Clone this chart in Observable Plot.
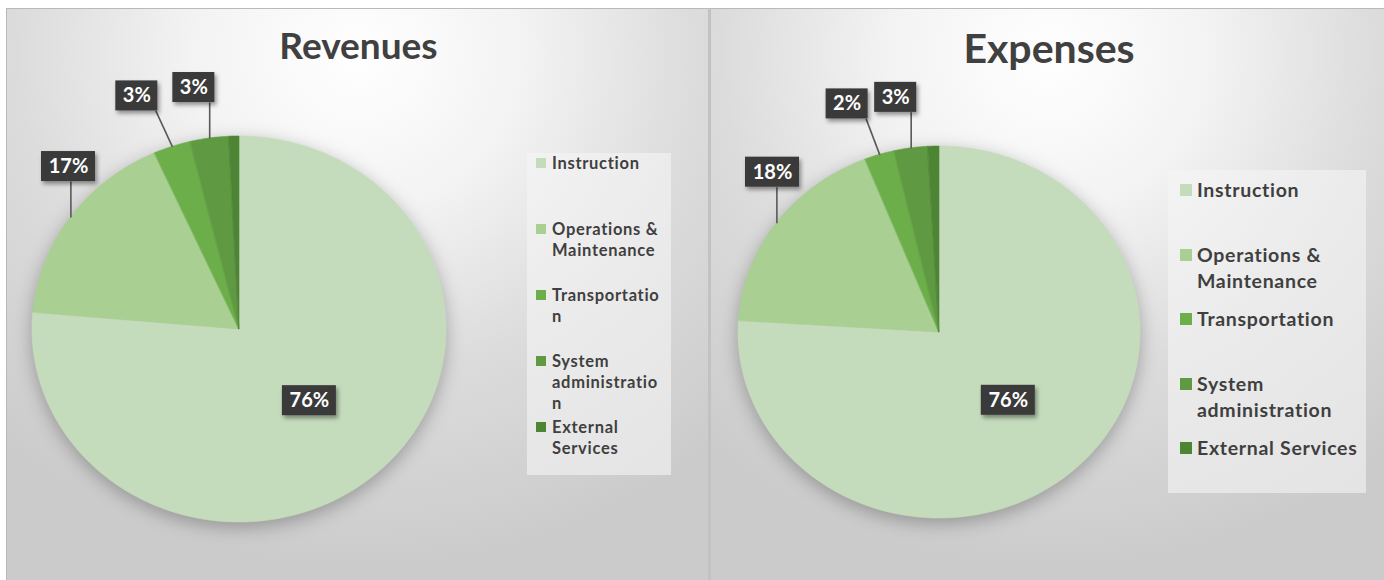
<!DOCTYPE html>
<html>
<head>
<meta charset="utf-8">
<script src="https://cdn.jsdelivr.net/npm/d3@7"></script>
<script src="https://cdn.jsdelivr.net/npm/@observablehq/plot@0.6"></script>
<style>
  html, body { margin: 0; padding: 0; background: #ffffff; }
  body { width: 1384px; height: 580px; position: relative; overflow: hidden; font-family: Lato, "Open Sans", sans-serif; }
  .panel { position: absolute; top: 8px; height: 574px; overflow: hidden;
    background: radial-gradient(ellipse 78% 90% at 50% 8%, #ffffff 0%, #f3f3f3 30%, #dcdcdc 62%, #cbcbcb 100%); }
  #left { left: 6px; width: 701px; border-top: 1px solid #b9b9b9; border-left: 1px solid #b9b9b9; }
  #right { left: 708px; width: 676px; border-top: 1px solid #b9b9b9; border-left: 3px solid #c2c2c2; }
  .title { position: absolute; left: 0; width: 100%; text-align: center; font-weight: 700; color: #404040; line-height: 1; }
  .legend { position: absolute; background: rgba(245,245,245,0.6); }
  .item { position: absolute; color: #3f3f3f; font-weight: 700; overflow-wrap: anywhere; }
  .sw { position: absolute; }
  .panel svg { position: absolute; left: 0; top: 0; }
  .panel svg g[aria-label="area"] { filter: drop-shadow(0px 5px 9px rgba(0,0,0,0.28)); }
  .panel svg g[aria-label="rect"] { filter: drop-shadow(2px 3px 2px rgba(0,0,0,0.40)); }
</style>
</head>
<body>
<div class="panel" id="left"></div>
<div class="panel" id="right"></div>
<script>
// ---- data ----
const categories = ["Instruction", "Operations & Maintenance", "Transportation", "System administration", "External Services"];
const revenues = [76.4, 16.9, 2.9, 3.0, 0.8];
const expenses = [76.0, 18.0, 2.4, 2.7, 0.9];
const titles = ["Revenues", "Expenses"];
const colors = ["#c5dcbc", "#a9cf93", "#6cae4a", "#5f9a43", "#4d8535"];

function piePanel(el, values, cfg) {
  const {title, width, height, cx, cy, rx, ry, titleSize, titleTop, leg} = cfg;
  const total = d3.sum(values);
  let acc = 0;
  const slices = categories.map((cat, i) => {
    const a0 = acc / total * 2 * Math.PI;
    acc += values[i];
    const a1 = acc / total * 2 * Math.PI;
    return {cat, i, value: values[i], a0, a1, mid: (a0 + a1) / 2};
  });
  const arcPts = slices.flatMap(s => {
    const n = Math.max(2, Math.ceil((s.a1 - s.a0) / (Math.PI / 180)));
    return d3.range(n + 1).map(k => {
      const t = s.a0 + (s.a1 - s.a0) * k / n;
      return {cat: s.cat, x: Math.sin(t), y: Math.cos(t)};
    });
  });
  const px = x => cx + x * rx, py = y => cy - y * ry;
  const ix = p => (p - cx) / rx, iy = p => (cy - p) / ry;
  const maxI = d3.maxIndex(values);
  const labels = [];
  for (const s of slices) {
    if (s.value < 1) continue; // tiny slices carry no data label
    const label = Math.round(s.value) + "%";
    const w = 12 * label.length + 18, h = 30;
    let cxp, cyp, link = null;
    if (s.i === maxI) {
      cxp = px(0.5 * Math.sin(s.mid)); cyp = py(0.5 * Math.cos(s.mid));
    } else {
      const ex = px(Math.sin(s.mid)), ey = py(Math.cos(s.mid));
      cxp = Math.max(34 + w / 2, ex + 110 * Math.sin(s.mid));
      cyp = ey - 51;
      const lx = Math.min(Math.max(ex, cxp - w / 2 + 2), cxp + w / 2 - 2);
      link = {x1: ix(ex), y1: iy(ey), x2: ix(lx), y2: iy(cyp + h / 2)};
    }
    labels.push({label, x: ix(cxp), y: iy(cyp), bx1: ix(cxp - w / 2), bx2: ix(cxp + w / 2), by1: iy(cyp - h / 2), by2: iy(cyp + h / 2), link});
  }
  const links = labels.filter(d => d.link).map(d => d.link);

  const svg = Plot.plot({
    width, height, margin: 0,
    style: {background: "transparent", overflow: "visible", fontFamily: "Lato, sans-serif"},
    x: {domain: [-1, 1], range: [cx - rx, cx + rx], axis: null},
    y: {domain: [-1, 1], range: [cy + ry, cy - ry], axis: null},
    color: {domain: categories, range: colors},
    marks: [
      Plot.area(arcPts, {x1: 0, y1: 0, x2: "x", y2: "y", z: "cat", fill: "cat", stroke: "cat", strokeWidth: 0.6, curve: "linear"}),
      Plot.link(links, {x1: "x1", y1: "y1", x2: "x2", y2: "y2", stroke: "#595959", strokeWidth: 1.6}),
      Plot.rect(labels, {x1: "bx1", x2: "bx2", y1: "by1", y2: "by2", fill: "#3a3a3a"}),
      Plot.text(labels, {x: "x", y: "y", text: "label", fill: "#ffffff", fontSize: 20, fontWeight: "bold", fontFamily: "Lato, sans-serif"})
    ]
  });
  el.appendChild(svg);

  const t = document.createElement("div");
  t.className = "title";
  t.textContent = title;
  t.style.fontSize = titleSize + "px";
  t.style.top = titleTop + "px";
  t.style.left = (cfg.titleShift || 0) + "px";
  el.appendChild(t);

  const lg = document.createElement("div");
  lg.className = "legend";
  Object.assign(lg.style, {left: leg.x + "px", top: leg.y + "px", width: leg.w + "px", height: leg.h + "px"});
  el.appendChild(lg);
  categories.forEach((cat, i) => {
    const top = leg.first - leg.lh / 2 + i * leg.slot;
    const sw = document.createElement("div");
    sw.className = "sw";
    Object.assign(sw.style, {left: leg.swx + "px", top: (top + (leg.lh - leg.sws) / 2) + "px", width: leg.sws + "px", height: leg.sws + "px", background: colors[i]});
    el.appendChild(sw);
    const it = document.createElement("div");
    it.className = "item";
    it.textContent = cat;
    Object.assign(it.style, {left: leg.tx + "px", top: top + "px", width: leg.tw + "px", fontSize: leg.fs + "px", lineHeight: leg.lh + "px", letterSpacing: leg.ls + "px"});
    el.appendChild(it);
  });
}

piePanel(document.getElementById("left"), revenues, {
  title: titles[0], width: 701, height: 572, cx: 232, cy: 320, rx: 207, ry: 193,
  titleSize: 37, titleTop: 17, titleShift: 1,
  leg: {x: 520, y: 144, w: 144, h: 322, swx: 529, sws: 10, tx: 545, tw: 111, first: 154, slot: 66, fs: 16.5, lh: 21, ls: 0.7}
});
piePanel(document.getElementById("right"), expenses, {
  title: titles[1], width: 676, height: 572, cx: 228, cy: 323, rx: 201, ry: 186,
  titleSize: 41, titleTop: 18, titleShift: 0,
  leg: {x: 457, y: 161, w: 198, h: 323, swx: 469, sws: 12, tx: 486, tw: 168, first: 181, slot: 64.5, fs: 19.5, lh: 26, ls: 0.7}
});
</script>
</body>
</html>
